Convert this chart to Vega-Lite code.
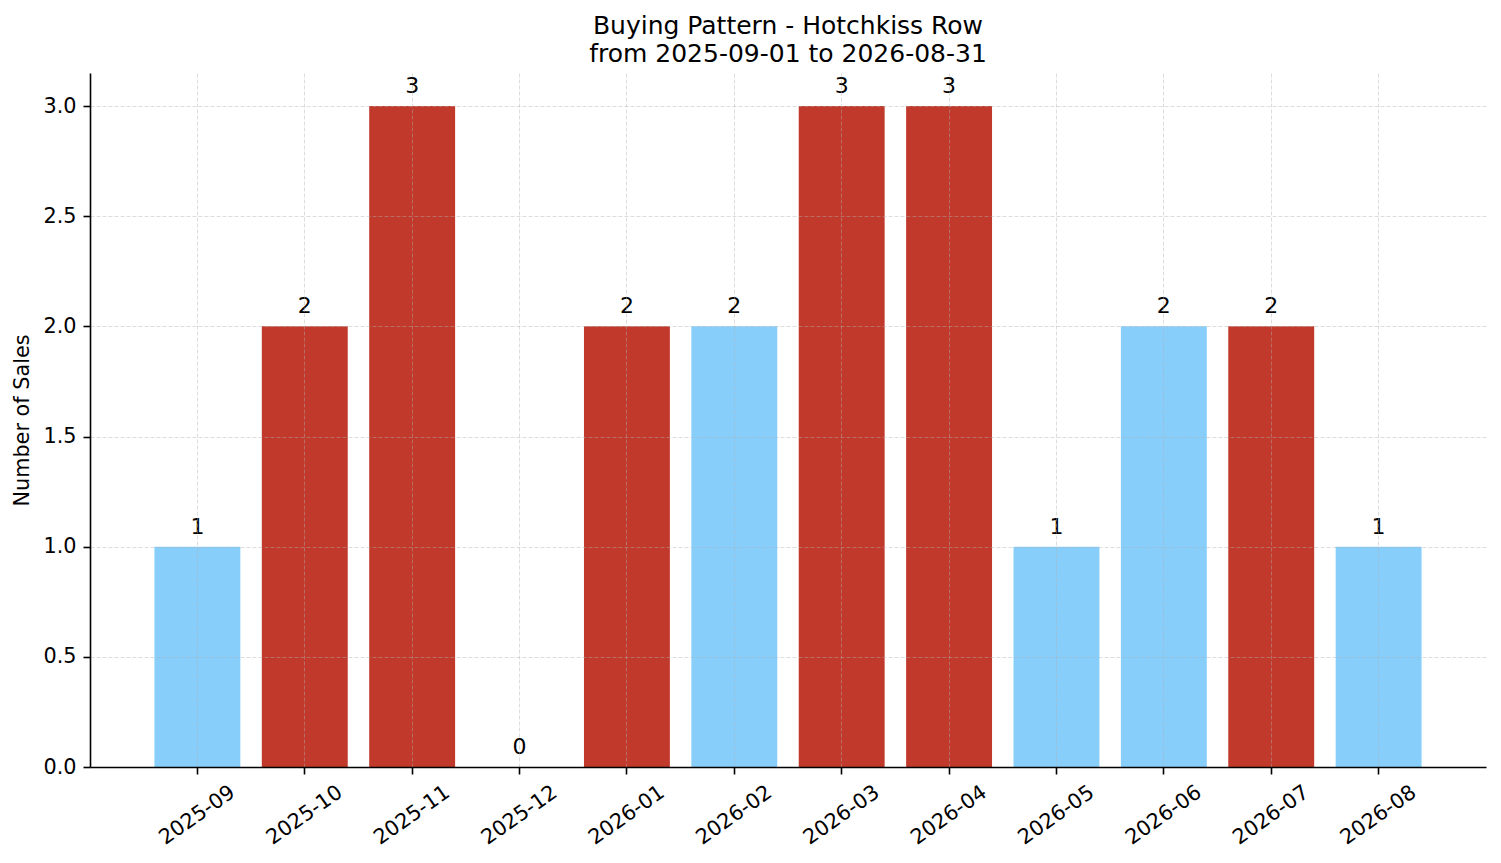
{
  "$schema": "https://vega.github.io/schema/vega-lite/v6.json",
  "autosize": {"type": "none"},
  "width": 1396,
  "height": 694,
  "padding": {"left": 90, "top": 73, "right": 15, "bottom": 96},
  "background": "white",
  "config": {
    "font": "DejaVu Sans",
    "view": {"stroke": null}
  },
  "title": {
    "text": ["Buying Pattern - Hotchkiss Row", "from 2025-09-01 to 2026-08-31"],
    "font": "DejaVu Sans",
    "fontSize": 25,
    "fontWeight": "normal",
    "color": "black",
    "lineHeight": 28,
    "frame": "group",
    "anchor": "middle",
    "offset": 6
  },
  "data": {
    "values": [
      {"month": "2025-09", "sales": 1, "status": "low"},
      {"month": "2025-10", "sales": 2, "status": "high"},
      {"month": "2025-11", "sales": 3, "status": "high"},
      {"month": "2025-12", "sales": 0, "status": "low"},
      {"month": "2026-01", "sales": 2, "status": "high"},
      {"month": "2026-02", "sales": 2, "status": "low"},
      {"month": "2026-03", "sales": 3, "status": "high"},
      {"month": "2026-04", "sales": 3, "status": "high"},
      {"month": "2026-05", "sales": 1, "status": "low"},
      {"month": "2026-06", "sales": 2, "status": "low"},
      {"month": "2026-07", "sales": 2, "status": "high"},
      {"month": "2026-08", "sales": 1, "status": "low"}
    ]
  },
  "encoding": {
    "x": {
      "field": "month",
      "type": "nominal",
      "sort": null,
      "scale": {"paddingInner": 0.2, "paddingOuter": 0.6},
      "axis": {
        "title": null,
        "zindex": 1,
        "bandPosition": 0.5,
        "grid": true,
        "gridColor": "#b0b0b0",
        "gridOpacity": 0.55,
        "gridDash": [4, 2],
        "gridWidth": 0.8,
        "domainColor": "black",
        "domainWidth": 1.6,
        "tickColor": "black",
        "tickWidth": 1.6,
        "tickSize": 7,
        "labelAngle": -35,
        "labelAlign": "center",
        "labelBaseline": "middle",
        "labelPadding": 41,
        "labelFontSize": 20.8,
        "labelColor": "black",
        "labelFont": "DejaVu Sans"
      }
    },
    "y": {
      "field": "sales",
      "type": "quantitative",
      "scale": {"domain": [0, 3.15], "nice": false},
      "axis": {
        "title": "Number of Sales",
        "titleFont": "DejaVu Sans",
        "titleFontSize": 20.8,
        "titleFontWeight": "normal",
        "titleColor": "black",
        "titlePadding": 10,
        "zindex": 1,
        "values": [0, 0.5, 1, 1.5, 2, 2.5, 3],
        "format": ".1f",
        "grid": true,
        "gridColor": "#b0b0b0",
        "gridOpacity": 0.55,
        "gridDash": [4, 2],
        "gridWidth": 0.8,
        "domainColor": "black",
        "domainWidth": 1.6,
        "tickColor": "black",
        "tickWidth": 1.6,
        "tickSize": 7,
        "labelPadding": 7,
        "labelFontSize": 20.8,
        "labelColor": "black",
        "labelFont": "DejaVu Sans"
      }
    }
  },
  "layer": [
    {
      "mark": {"type": "bar"},
      "encoding": {
        "color": {
          "field": "status",
          "type": "nominal",
          "scale": {"domain": ["low", "high"], "range": ["#87CEFA", "#C0392B"]},
          "legend": null
        }
      }
    },
    {
      "mark": {
        "type": "text",
        "baseline": "alphabetic",
        "align": "center",
        "dy": -13,
        "fontSize": 22,
        "color": "black"
      },
      "encoding": {
        "text": {"field": "sales", "type": "quantitative"}
      }
    }
  ]
}
